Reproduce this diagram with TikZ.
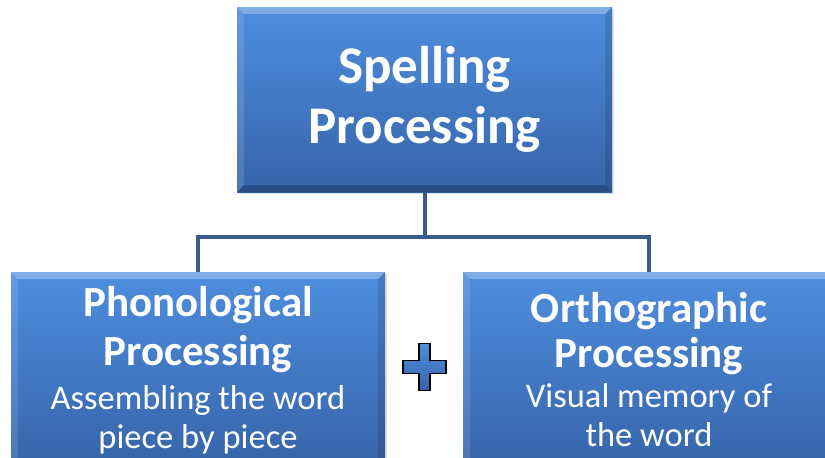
\documentclass[tikz,border=0pt]{standalone}
\usepackage{fontspec}
\setmainfont{Carlito}
\usetikzlibrary{calc}
\usetikzlibrary{positioning}
\usetikzlibrary{shadows}
\definecolor{boxtop}{RGB}{78, 142, 222}
\definecolor{boxbottom}{RGB}{54, 100, 170}
\definecolor{linkblue}{RGB}{60, 92, 136}

\tikzset{
  processbox/.style={rectangle, top color=boxtop, bottom color=boxbottom, text=white,
                     align=center, inner sep=0pt,
                     drop shadow={opacity=0.25, shadow xshift=2pt, shadow yshift=-2pt}},
  link/.style={draw=linkblue, line width=4pt},
  titlefont/.style={font=\fontsize{53}{60}\selectfont\bfseries},
  branchfont/.style={font=\fontsize{34.5}{39}\selectfont},
}
\newcommand{\headline}{\fontsize{43}{39}\selectfont\bfseries}

% light and dark edges round a box
\newcommand{\bevel}[1]{%
  \fill[white, opacity=0.28] (#1.north west) -- (#1.north east) -- ($(#1.north east)+(-7,7)$) -- ($(#1.north west)+(7,7)$) -- cycle;
  \fill[white, opacity=0.12] (#1.north west) -- ($(#1.north west)+(7,7)$) -- ($(#1.south west)+(7,-7)$) -- (#1.south west) -- cycle;
  \fill[black, opacity=0.12] (#1.north east) -- ($(#1.north east)+(-7,7)$) -- ($(#1.south east)+(-7,-7)$) -- (#1.south east) -- cycle;
  \fill[black, opacity=0.22] (#1.south west) -- ($(#1.south west)+(7,-7)$) -- ($(#1.south east)+(-7,-7)$) -- (#1.south east) -- cycle;
}

\begin{document}
\begin{tikzpicture}[x=1pt, y=-1pt]
  \useasboundingbox (0,0) rectangle (825,458);
  \clip (0,0) rectangle (825,458);

  % Top box
  \node[processbox, titlefont, minimum width=375pt, minimum height=185pt] (spelling) at (424.5, 99.5)
       {Spelling\\Processing};
  \bevel{spelling}

  % Two branches
  \node[processbox, branchfont, minimum width=374pt, minimum height=196pt] (phono) at (198, 370)
       {\headline Phonological\\[10pt]
        \headline Processing\\[5pt]
        Assembling the word\\
        piece by piece};
  \bevel{phono}
  \node[processbox, branchfont, minimum width=372pt, minimum height=196pt] (ortho) at (649, 370)
       {\headline Orthographic\\[6pt]
        \headline Processing\\[1pt]
        Visual memory of\\
        the word};
  \bevel{ortho}

  % Connectors
  \draw[link] (spelling.south) -- ++(0,45) coordinate (bus) -| (phono.north);
  \draw[link] (bus) -| (ortho.north);

  % Plus sign between the branches
  \coordinate (plus) at (424.5, 367);
  \draw[line width=1.5pt, top color=boxtop, bottom color=boxbottom]
       (plus) ++(-5.5,-23.5) -- ++(11,0) -- ++(0,17) -- ++(16,0) -- ++(0,13) -- ++(-16,0)
       -- ++(0,17) -- ++(-11,0) -- ++(0,-17) -- ++(-16,0) -- ++(0,-13) -- ++(16,0) -- cycle;
\end{tikzpicture}
\end{document}
